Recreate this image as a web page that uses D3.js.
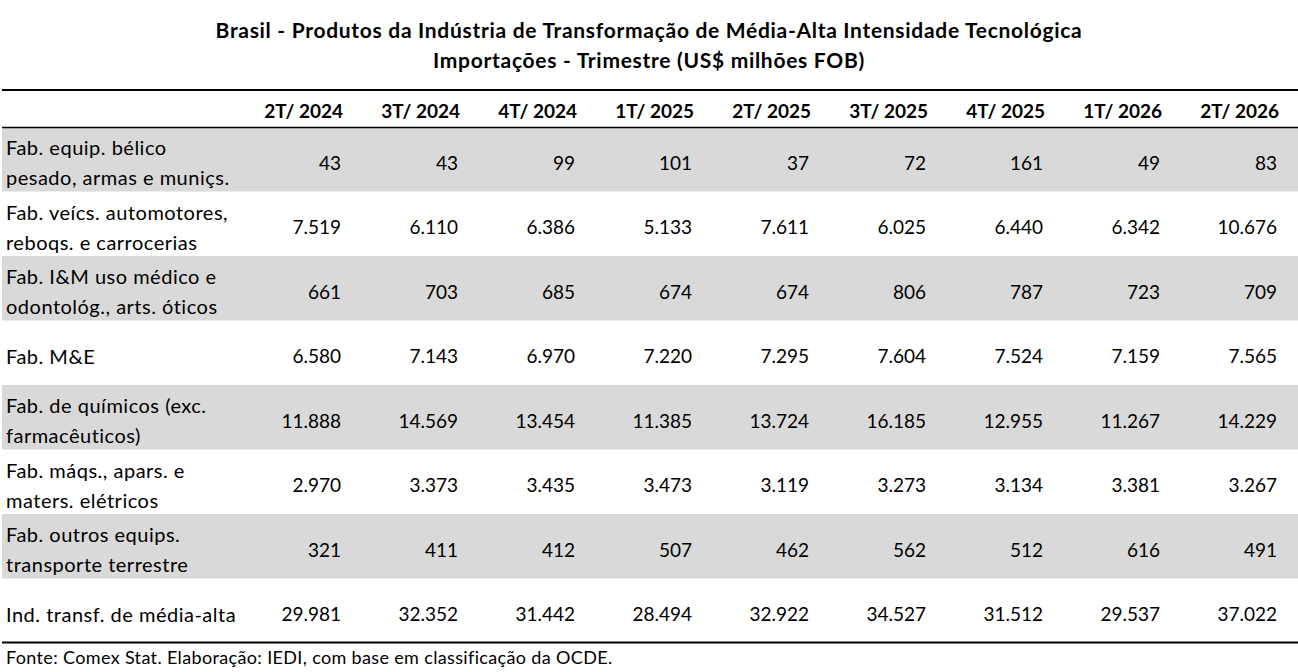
<!DOCTYPE html>
<html>
<head>
<meta charset="utf-8">
<script src="https://cdn.jsdelivr.net/npm/d3@7"></script>
<style>
  body { margin: 0; background: #fff; }
  svg text { font-family: Lato, "Noto Sans", sans-serif; fill: #000; }
</style>
</head>
<body>
<div id="grid"></div>
<script>
// quarters (columns)
var periods = ["2T/ 2024", "3T/ 2024", "4T/ 2024", "1T/ 2025", "2T/ 2025", "3T/ 2025", "4T/ 2025", "1T/ 2026", "2T/ 2026"];

// row labels, split in lines as in the source
var sectors = [
  ["Fab. equip. bélico", "pesado, armas e muniçs."],
  ["Fab. veícs. automotores,", "reboqs. e carrocerias"],
  ["Fab. I&M uso médico e", "odontológ., arts. óticos"],
  ["Fab. M&E"],
  ["Fab. de químicos (exc.", "farmacêuticos)"],
  ["Fab. máqs., apars. e", "maters. elétricos"],
  ["Fab. outros equips.", "transporte terrestre"],
  ["Ind. transf. de média-alta"]
];

// US$ milhões FOB
var belico     = [43, 43, 99, 101, 37, 72, 161, 49, 83];
var veiculos   = [7519, 6110, 6386, 5133, 7611, 6025, 6440, 6342, 10676];
var medico     = [661, 703, 685, 674, 674, 806, 787, 723, 709];
var me         = [6580, 7143, 6970, 7220, 7295, 7604, 7524, 7159, 7565];
var quimicos   = [11888, 14569, 13454, 11385, 13724, 16185, 12955, 11267, 14229];
var eletricos  = [2970, 3373, 3435, 3473, 3119, 3273, 3134, 3381, 3267];
var transporte = [321, 411, 412, 507, 462, 562, 512, 616, 491];
var total      = [29981, 32352, 31442, 28494, 32922, 34527, 31512, 29537, 37022];

var values = [belico, veiculos, medico, me, quimicos, eletricos, transporte, total];

var title1 = "Brasil - Produtos da Indústria de Transformação de Média-Alta Intensidade Tecnológica";
var title2 = "Importações - Trimestre (US$ milhões FOB)";
var source = "Fonte: Comex Stat. Elaboração: IEDI, com base em classificação da OCDE.";

var width = 1298, height = 672;

var svg = d3.select("#grid")
  .append("svg")
  .attr("width", width)
  .attr("height", height);

// number format pt-BR (dot as thousands separator)
var fmt = d3.formatLocale({decimal: ",", thousands: ".", grouping: [3], currency: ["R$", ""]}).format(",d");

// column right edges
var x = d3.scaleLinear()
  .domain([0, periods.length - 1])
  .range([341, 1277]);

// rows
var y = d3.scaleBand()
  .domain(d3.range(sectors.length))
  .range([127, 643]);

// title
svg.append("text")
  .attr("x", 649).attr("y", 38)
  .attr("text-anchor", "middle")
  .attr("font-size", 21).attr("font-weight", "bold")
  .attr("letter-spacing", 0.7)
  .text(title1);
svg.append("text")
  .attr("x", 649).attr("y", 68)
  .attr("text-anchor", "middle")
  .attr("font-size", 21).attr("font-weight", "bold")
  .attr("letter-spacing", 0.7)
  .text(title2);

// stripes
svg.selectAll("rect.stripe")
  .data(d3.range(sectors.length).filter(function(i) { return i % 2 == 0; }))
  .enter().append("rect")
  .attr("class", "stripe")
  .attr("x", 2)
  .attr("y", function(i) { return y(i); })
  .attr("width", width - 2)
  .attr("height", y.bandwidth())
  .attr("fill", "#d9d9d9");

// header
svg.selectAll("text.head")
  .data(periods)
  .enter().append("text")
  .attr("class", "head")
  .attr("x", function(d, i) { return x(i) + 2; })
  .attr("y", 118)
  .attr("text-anchor", "end")
  .attr("font-size", 19).attr("font-weight", "bold")
  .text(function(d) { return d; });

// row labels
var labels = svg.selectAll("g.label")
  .data(sectors)
  .enter().append("g")
  .attr("class", "label")
  .attr("transform", function(d, i) { return "translate(6," + (y(i) + y.bandwidth() / 2 + 4) + ")"; });

labels.selectAll("text")
  .data(function(d) { return d.map(function(s, k) { return {s: s, k: k, n: d.length}; }); })
  .enter().append("text")
  .attr("x", 0)
  .attr("y", function(d) { return d.n == 1 ? 0 : (d.k == 0 ? -15 : 15); })
  .attr("dy", "0.35em")
  .attr("font-size", 20)
  .attr("letter-spacing", 0.5)
  .text(function(d) { return d.s; });

// values
var rows = svg.selectAll("g.row")
  .data(values)
  .enter().append("g")
  .attr("class", "row")
  .attr("transform", function(d, i) { return "translate(0," + (y(i) + y.bandwidth() / 2 + 4) + ")"; });

rows.selectAll("text")
  .data(function(d) { return d; })
  .enter().append("text")
  .attr("x", function(d, i) { return x(i); })
  .attr("y", 0)
  .attr("dy", "0.35em")
  .attr("text-anchor", "end")
  .attr("font-size", 19)
  .text(function(d) { return fmt(d); });

// rules
svg.append("line").attr("x1", 2).attr("x2", width).attr("y1", 90).attr("y2", 90)
  .attr("stroke", "#000").attr("stroke-width", 2);
svg.append("line").attr("x1", 2).attr("x2", width).attr("y1", 127.5).attr("y2", 127.5)
  .attr("stroke", "#000").attr("stroke-width", 1.5);
svg.append("line").attr("x1", 2).attr("x2", width).attr("y1", 642.5).attr("y2", 642.5)
  .attr("stroke", "#000").attr("stroke-width", 2);

// source
svg.append("text")
  .attr("x", 6).attr("y", 658)
  .attr("dy", "0.35em")
  .attr("font-size", 18)
  .attr("letter-spacing", 0.35)
  .text(source);
</script>
</body>
</html>
